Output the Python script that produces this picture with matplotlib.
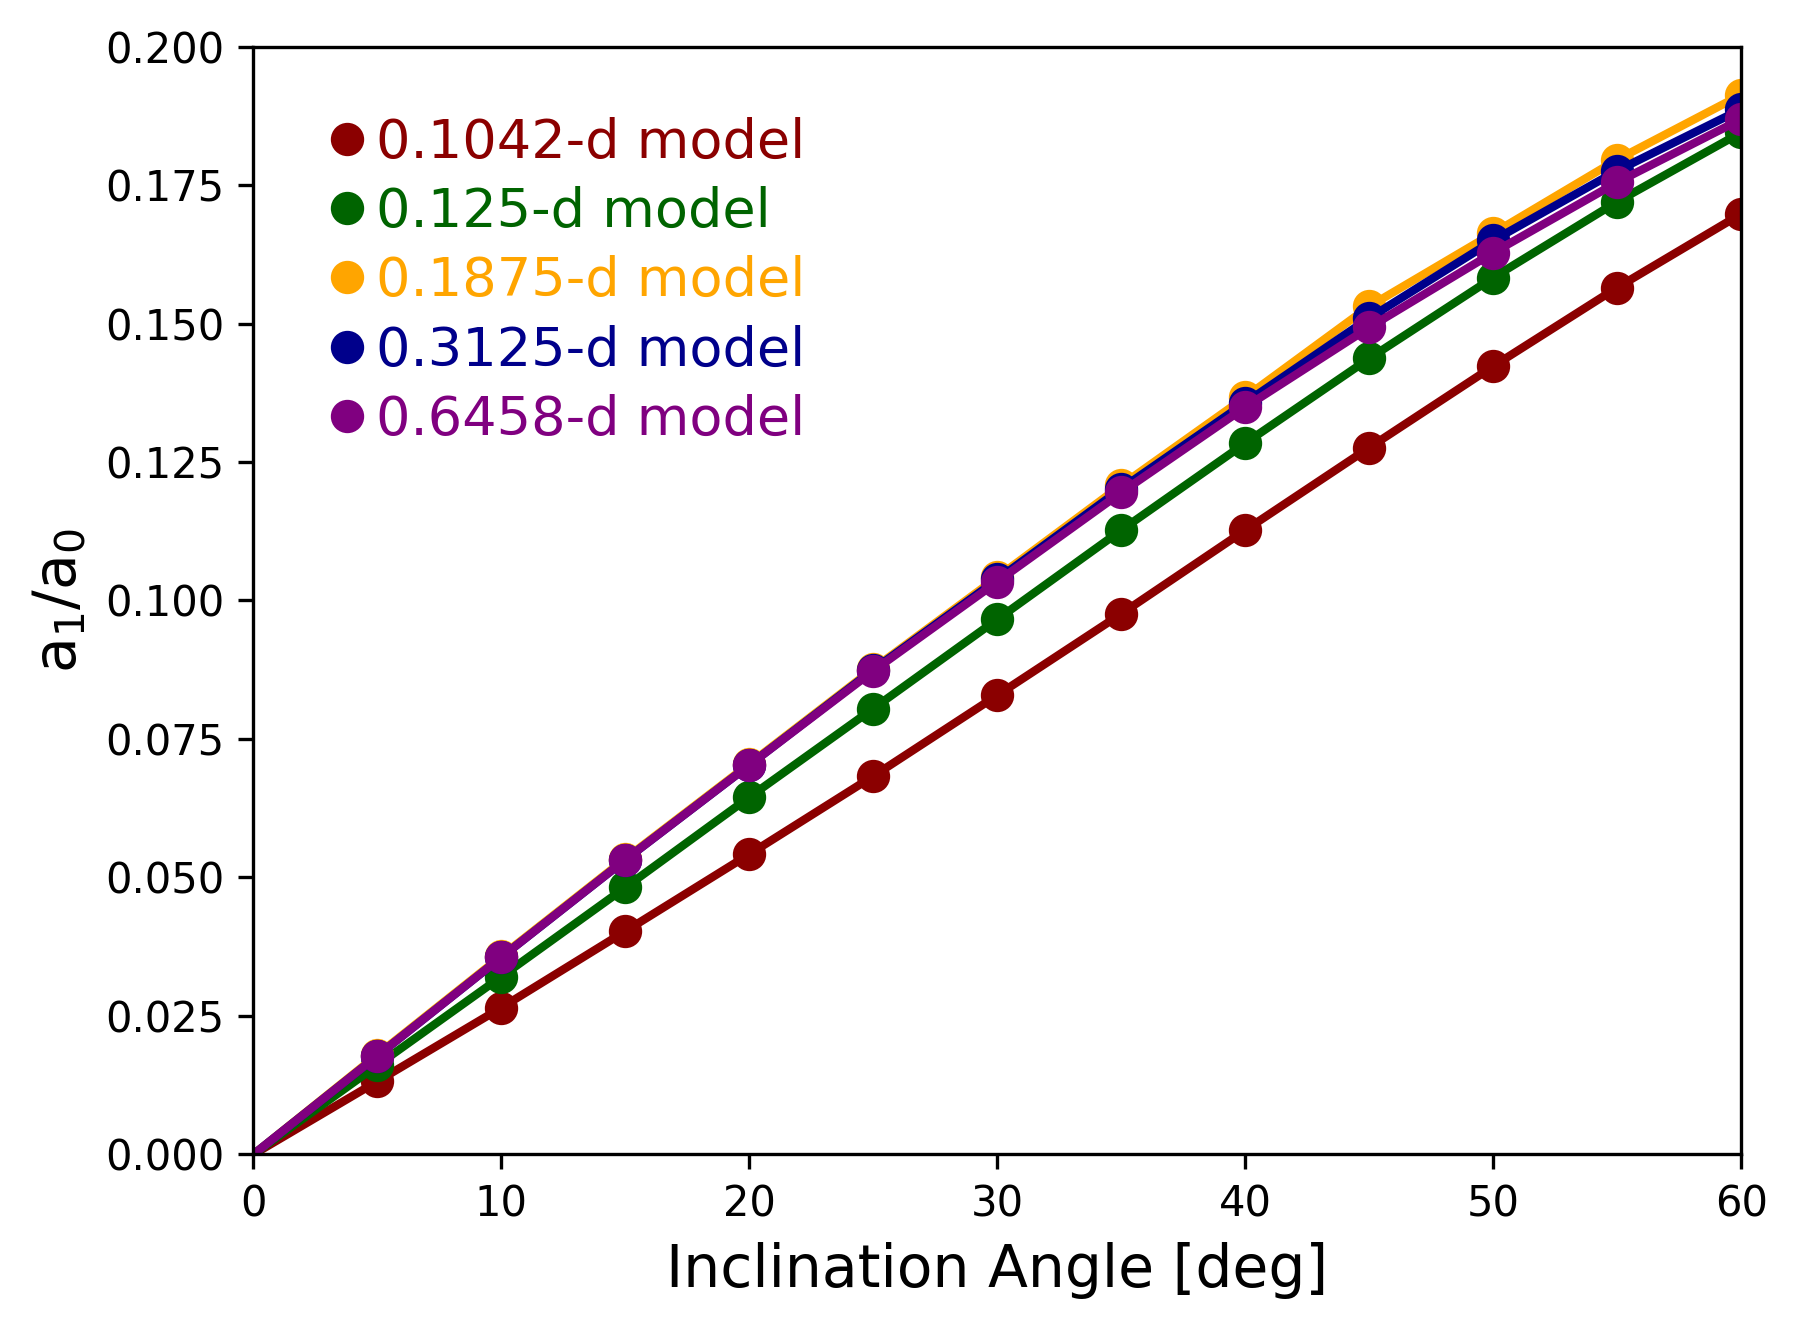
import numpy as np
import matplotlib
matplotlib.use("Agg")
import matplotlib.pyplot as plt

# inclination angles (deg); lines start at the origin, markers from 5 deg on
angles = [5, 10, 15, 20, 25, 30, 35, 40, 45, 50, 55, 60]

ratio_01042 = [0.0132, 0.0265, 0.0403, 0.0542, 0.0683, 0.0829, 0.0976, 0.1127, 0.1276, 0.1423, 0.1565, 0.1698]
ratio_0125 = [0.0161, 0.0321, 0.0482, 0.0645, 0.0805, 0.0966, 0.1127, 0.1284, 0.1437, 0.1583, 0.1720, 0.1845]
ratio_01875 = [0.0180, 0.0358, 0.0534, 0.0705, 0.0877, 0.1042, 0.1208, 0.1367, 0.1531, 0.1663, 0.1796, 0.1913]
ratio_03125 = [0.0178, 0.0356, 0.0532, 0.0703, 0.0875, 0.1038, 0.1202, 0.1357, 0.1510, 0.1650, 0.1776, 0.1887]
ratio_06458 = [0.0178, 0.0356, 0.0532, 0.0703, 0.0873, 0.1034, 0.1195, 0.1349, 0.1493, 0.1628, 0.1755, 0.1869]

labels = ["0.1042-d model", "0.125-d model", "0.1875-d model", "0.3125-d model", "0.6458-d model"]
colors = ["darkred", "darkgreen", "orange", "darkblue", "purple"]
series = [ratio_01042, ratio_0125, ratio_01875, ratio_03125, ratio_06458]

fig = plt.figure(figsize=(1797 / 300, 1330 / 300), dpi=300)
ax = fig.add_axes([0.141, 0.132, 0.828, 0.833])

for vals, c, lab in zip(series, colors, labels):
    ax.plot([0] + angles, [0] + vals, "-", color=c, lw=2)
    ax.plot(angles, vals, "o", color=c, ms=7, label=lab)

ax.set_xlim(0, 60)
ax.set_ylim(0, 0.2)
ax.set_yticks(np.arange(0, 0.2001, 0.025))
ax.tick_params(labelsize=10)
ax.set_xlabel("Inclination Angle [deg]", fontsize=14)
ax.set_ylabel(r"$\mathrm{a_1/a_0}$", fontsize=14)

leg = ax.legend(loc="upper left", bbox_to_anchor=(0.053, 0.9367), frameon=False,
                fontsize=13, handlelength=0.55, handletextpad=0.26,
                labelspacing=0.32, borderpad=0, borderaxespad=0)
for txt, c in zip(leg.get_texts(), colors):
    txt.set_color(c)

plt.savefig("out.png", dpi=300)
